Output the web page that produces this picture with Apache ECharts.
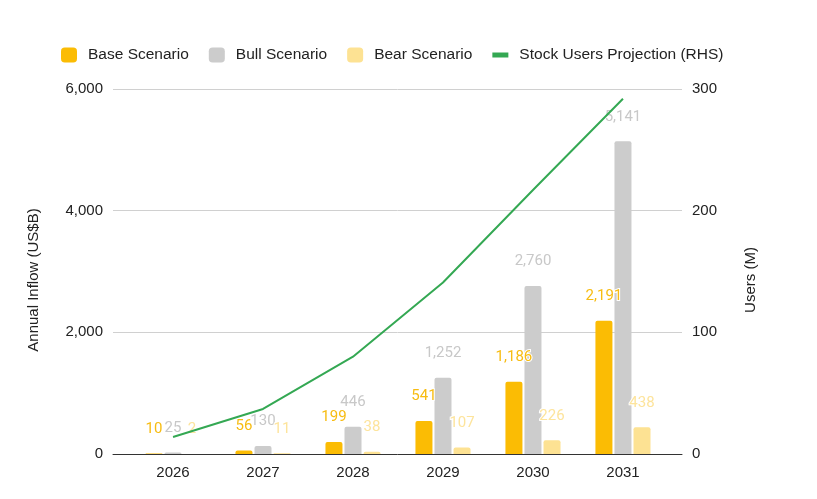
<!DOCTYPE html>
<html>
<head>
<meta charset="utf-8">
<script src="https://cdn.jsdelivr.net/npm/echarts@6/dist/echarts.min.js"></script>
<style>
  html, body { margin: 0; padding: 0; background: #fff; }
  #chart { width: 817px; height: 499px; }
</style>
</head>
<body>
<div id="chart"></div>
<script>
// data
const years = ["2026", "2027", "2028", "2029", "2030", "2031"];
const baseScenario = [10, 56, 199, 541, 1186, 2191];
const bullScenario = [25, 130, 446, 1252, 2760, 5141];
const bearScenario = [2, 11, 38, 107, 226, 438];
const stockUsers = [14, 37, 80, 141, 217, 292];

const font = "'Liberation Sans', Arial, sans-serif";
const labelFont = "Roboto, 'Liberation Sans', sans-serif";
const fmt = (v) => v.toLocaleString("en-US");

// x is a value axis so the gridlines can run past the outer categories
const toPoints = (arr) => arr.map((v, i) => [i, v]);

const barLabel = (color) => ({
  show: true,
  position: "top",
  distance: 17,
  color: color,
  fontSize: 15,
  fontFamily: labelFont,
  textBorderColor: "#fff",
  textBorderWidth: 2,
  formatter: (p) => fmt(p.value[1]),
});

const chart = echarts.init(document.getElementById("chart"));
chart.setOption({
  animation: false,
  textStyle: { fontFamily: font },
  legend: {
    left: 61,
    top: 47,
    padding: 0,
    itemWidth: 16,
    itemHeight: 15,
    itemGap: 20,
    textStyle: { fontSize: 15.5, color: "#222", fontFamily: font, padding: [0, 0, 0, 6] },
    data: [
      { name: "Base Scenario", icon: "roundRect" },
      { name: "Bull Scenario", icon: "roundRect" },
      { name: "Bear Scenario", icon: "roundRect" },
      { name: "Stock Users Projection (RHS)", icon: "path://M0,0h16v5h-16z" },
    ],
  },
  grid: { left: 113, right: 135, top: 89, bottom: 45 },
  xAxis: {
    type: "value",
    min: -0.667,
    max: 5.656,
    splitLine: { show: false },
    axisTick: { show: false },
    axisLine: { show: true, onZero: false, lineStyle: { color: "#333", width: 1 } },
    axisLabel: {
      customValues: [0, 1, 2, 3, 4, 5],
      formatter: (v) => years[Math.round(v)],
      color: "#222",
      fontSize: 15,
      margin: 11,
    },
  },
  yAxis: [
    {
      type: "value",
      min: 0,
      max: 6000,
      interval: 2000,
      name: "Annual Inflow (US$B)",
      nameLocation: "middle",
      nameRotate: 90,
      nameGap: 72,
      nameTextStyle: { fontSize: 15, color: "#222", padding: [0, 17, 0, 0] },
      axisLabel: { color: "#222", fontSize: 15, margin: 10, formatter: (v) => fmt(v) },
      splitLine: { lineStyle: { color: "#d0d0d0" } },
      axisLine: { show: false },
      axisTick: { show: false },
    },
    {
      type: "value",
      min: 0,
      max: 300,
      interval: 100,
      name: "Users (M)",
      nameLocation: "middle",
      nameRotate: 90,
      nameGap: 61,
      nameTextStyle: { fontSize: 15, color: "#222", padding: [0, 17, 0, 0] },
      axisLabel: { color: "#222", fontSize: 15, margin: 10 },
      splitLine: { show: false },
      axisLine: { show: false },
      axisTick: { show: false },
    },
  ],
  series: [
    {
      name: "Base Scenario",
      type: "bar",
      barWidth: 17,
      barGap: "12%",
      itemStyle: { color: "#FBBC04", borderRadius: [2, 2, 0, 0] },
      label: barLabel("#F7BC12"),
      data: toPoints(baseScenario),
    },
    {
      name: "Bull Scenario",
      type: "bar",
      barWidth: 17,
      barGap: "12%",
      itemStyle: { color: "#CCCCCC", borderRadius: [2, 2, 0, 0] },
      label: barLabel("#C8C8C8"),
      data: toPoints(bullScenario),
    },
    {
      name: "Bear Scenario",
      type: "bar",
      barWidth: 17,
      barGap: "12%",
      itemStyle: { color: "#FDE293", borderRadius: [2, 2, 0, 0] },
      label: barLabel("#FDE49C"),
      data: toPoints(bearScenario),
    },
    {
      name: "Stock Users Projection (RHS)",
      type: "line",
      yAxisIndex: 1,
      showSymbol: false,
      symbol: "none",
      lineStyle: { color: "#34A853", width: 2 },
      itemStyle: { color: "#34A853" },
      data: toPoints(stockUsers),
    },
  ],
});
</script>
</body>
</html>
